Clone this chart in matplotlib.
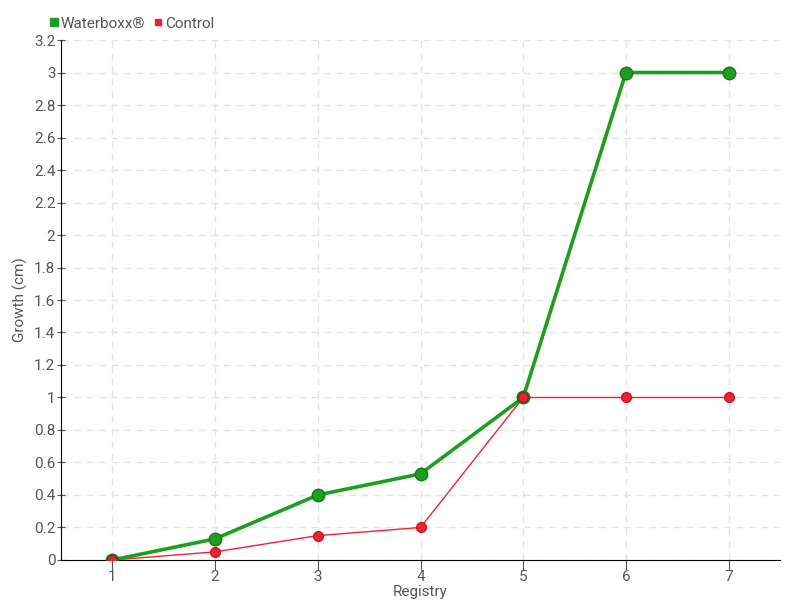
import matplotlib
matplotlib.use("Agg")
import matplotlib.pyplot as plt
from matplotlib.ticker import FuncFormatter

registry = [1, 2, 3, 4, 5, 6, 7]
waterboxx = [0, 0.13, 0.40, 0.53, 1.0, 3.0, 3.0]
control = [0, 0.05, 0.15, 0.20, 1.0, 1.0, 1.0]
yticks = [0, 0.2, 0.4, 0.6, 0.8, 1, 1.2, 1.4, 1.6, 1.8, 2, 2.2, 2.4, 2.6, 2.8, 3, 3.2]

green = "#1e9e1e"
red = "#ee2233"
grey = "#555555"

plt.rcParams["font.family"] = ["Roboto", "DejaVu Sans"]

fig = plt.figure(figsize=(8, 6), dpi=100)
ax = fig.add_axes([0.07625, 0.0667, 0.89875, 0.8666])

ax.plot(registry, control, color=red, lw=1, marker="o", ms=7,
        mfc=red, mec="#cc1122", zorder=3, label="Control")
ax.plot(registry, waterboxx, color=green, lw=2.6, marker="o", ms=9,
        mfc=green, mec="#137a13", mew=1, zorder=4, label="Waterboxx®")
# red marker at 1 and 5 sits on top of green
ax.plot([registry[0], registry[4]], [control[0], control[4]], ls="none",
        marker="o", ms=7, mfc=red, mec="#8a2a1a", zorder=5)

ax.set_xlim(0.5, 7.5)
ax.set_ylim(0, 3.2)
ax.set_xticks(registry)
ax.set_yticks(yticks)
ax.yaxis.set_major_formatter(FuncFormatter(lambda v, p: "%g" % round(v, 1)))

ax.grid(True, ls=(0, (5, 4)), color="#e3e3e3", lw=1)
ax.set_axisbelow(True)
for s in ["top", "right"]:
    ax.spines[s].set_visible(False)
ax.spines["left"].set_color("black")
ax.spines["bottom"].set_color("black")

ax.tick_params(axis="x", direction="out", length=7, color=grey,
               labelsize=11, labelcolor=grey, pad=0)
ax.tick_params(axis="y", direction="inout", length=6, color=grey,
               labelsize=11, labelcolor=grey, pad=1)

ax.set_xlabel("Registry", fontsize=11, color=grey)
ax.xaxis.set_label_coords(0.5, -0.048)
ax.set_ylabel("Growth (cm)", fontsize=11, color=grey)
ax.yaxis.set_label_coords(-0.046, 0.5)

h, l = ax.get_legend_handles_labels()
leg = fig.legend([h[1], h[0]], [l[1], l[0]], loc="upper left",
                 bbox_to_anchor=(0.045, 0.995), ncol=2, frameon=False,
                 fontsize=11, handlelength=0.5, handletextpad=0.2,
                 columnspacing=0.6, markerscale=0.7)
for t in leg.get_texts():
    t.set_color(grey)
for lh, c in zip(leg.legend_handles, [green, red]):
    lh.set_linestyle("none")
    lh.set_marker("s")
    lh.set_markeredgecolor(c)

fig.savefig("out.png", dpi=100)
